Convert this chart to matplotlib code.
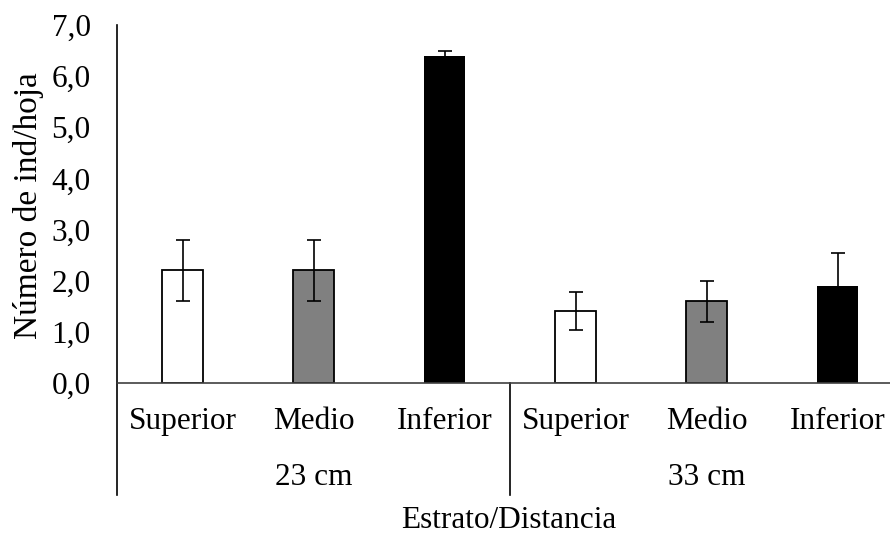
import matplotlib
matplotlib.use("Agg")
import matplotlib.pyplot as plt
import numpy as np

plt.rcParams['font.family'] = ['Liberation Serif', 'DejaVu Serif']

estratos = ['Superior', 'Medio', 'Inferior', 'Superior', 'Medio', 'Inferior']
distancias = ['23 cm', '33 cm']
medias = [2.2, 2.2, 6.4, 1.4, 1.6, 1.9]
errores = [0.59, 0.59, 0.1, 0.37, 0.4, 0.64]
colores = ['white', '#808080', 'black', 'white', '#808080', 'black']
yticks = [0, 1, 2, 3, 4, 5, 6, 7]

fs = 22.5

fig = plt.figure(figsize=(8.9, 5.35), dpi=100)
# plot area runs a bit past the right edge, as in the original
ax = fig.add_axes([117/890, 1 - 383/535, 786/890, 358/535])

x = np.arange(len(medias))
for i in x:
    ec = 'black' if colores[i] != 'black' else 'none'
    ax.bar(i, medias[i], width=0.315, color=colores[i], edgecolor=ec,
           linewidth=1.3, zorder=2)
ax.errorbar(x, medias, yerr=errores, fmt='none', ecolor='black',
            elinewidth=1.2, capsize=5, capthick=1.2, zorder=3)

ax.set_xlim(-0.5, 5.5)
ax.set_ylim(0, 7)
ax.set_yticks(yticks)
ax.set_yticklabels([f'{v:.1f}'.replace('.', ',') for v in yticks], fontsize=fs)
ax.tick_params(axis='y', length=0, pad=19)
ax.set_xticks(x)
ax.set_xticklabels(estratos, fontsize=fs)
ax.tick_params(axis='x', length=0, pad=17)

for s in ['top', 'right']:
    ax.spines[s].set_visible(False)
ax.spines['left'].set_linewidth(1.2)
ax.spines['bottom'].set_linewidth(1.2)
ax.spines['bottom'].set_color('#404040')

# group separators below the axis
trans = ax.get_xaxis_transform()
for sep in [-0.5, 2.5, 5.5]:
    ax.plot([sep, sep], [0, -0.313], transform=trans, color='black',
            linewidth=1.2, clip_on=False)
for g, lab in enumerate(distancias):
    ax.text(g * 3 + 1, -0.265, lab, transform=trans, ha='center',
            va='center', fontsize=fs)

fig.text(509/890, 1 - 521/535, 'Estrato/Distancia', ha='center',
         va='center', fontsize=fs)
fig.text(29/890, 1 - 206/535, 'Número de ind/hoja', ha='center',
         va='center', rotation=90, fontsize=24)

fig.savefig('out.png', dpi=100)
